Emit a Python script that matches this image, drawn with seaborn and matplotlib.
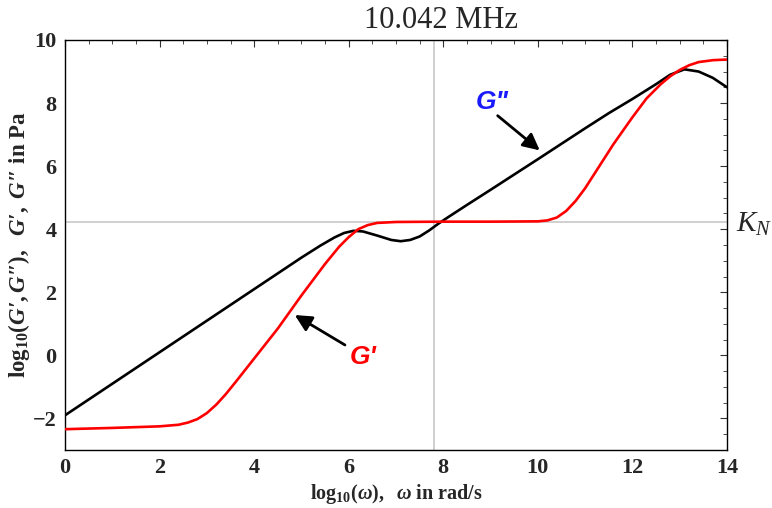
import matplotlib
matplotlib.use("Agg")
import matplotlib.pyplot as plt
from matplotlib.ticker import MultipleLocator
import seaborn as sns
import pandas as pd

# ---- data ----
title_text = "10.042 MHz"
kn_value = 4.24
vline_x = 7.8

gpp_x = [0, 1, 2, 3, 4, 5, 5.4, 5.7, 5.9, 6.1, 6.3, 6.6, 6.9, 7.1, 7.3, 7.5, 7.7, 7.9, 8.1, 8.5, 9, 10, 11, 11.5, 12, 12.5, 12.8, 13.1, 13.4, 13.7, 14]
gpp_y = [-1.9, -0.9, 0.1, 1.1, 2.1, 3.1, 3.48, 3.74, 3.88, 3.95, 3.93, 3.8, 3.66, 3.62, 3.66, 3.77, 3.96, 4.18, 4.38, 4.77, 5.25, 6.22, 7.2, 7.68, 8.13, 8.6, 8.9, 9.07, 9.0, 8.8, 8.5]

gp_x = [0, 1, 2, 2.4, 2.6, 2.8, 3.0, 3.2, 3.4, 3.6, 4.0, 4.5, 5.0, 5.5, 5.8, 6.0, 6.2, 6.4, 6.6, 7.0, 8, 9, 10, 10.2, 10.4, 10.6, 10.8, 11.0, 11.3, 11.6, 12.0, 12.3, 12.6, 12.8, 13.0, 13.2, 13.4, 13.7, 14]
gp_y = [-2.34, -2.3, -2.25, -2.2, -2.13, -2.02, -1.83, -1.56, -1.23, -0.86, -0.1, 0.85, 1.9, 2.9, 3.45, 3.75, 4.0, 4.13, 4.2, 4.23, 4.24, 4.24, 4.25, 4.28, 4.37, 4.58, 4.9, 5.3, 6.0, 6.7, 7.55, 8.15, 8.6, 8.85, 9.05, 9.2, 9.3, 9.36, 9.38]

x_ticks = [0, 2, 4, 6, 8, 10, 12, 14]
y_ticks = [-2, 0, 2, 4, 6, 8, 10]

sns.set_style("white")
plt.rcParams["font.family"] = ["Liberation Serif", "DejaVu Serif"]
plt.rcParams["mathtext.fontset"] = "custom"
plt.rcParams["mathtext.rm"] = "Liberation Serif:bold"
plt.rcParams["mathtext.it"] = "Liberation Serif:italic"
plt.rcParams["mathtext.bf"] = "Liberation Serif:bold"
plt.rcParams["mathtext.bfit"] = "Liberation Serif:italic:bold"

df = pd.concat([
    pd.DataFrame({"x": gpp_x, "y": gpp_y, "s": "G''"}),
    pd.DataFrame({"x": gp_x, "y": gp_y, "s": "G'"}),
])

fig = plt.figure(figsize=(7.72, 5.08), dpi=100)
ax = fig.add_axes([65 / 772, 1 - 450 / 508, (727 - 65) / 772, (450 - 40) / 508])

ax.axhline(kn_value, color="#c8c8c8", lw=1.2, zorder=1)
ax.axvline(vline_x, color="#c8c8c8", lw=1.2, zorder=1)

sns.lineplot(data=df, x="x", y="y", hue="s", palette={"G''": "black", "G'": "#ff0000"},
             estimator=None, sort=False, lw=1.9, legend=False, ax=ax, zorder=3)

ax.set_xlim(0, 14)
ax.set_ylim(-3, 10)
ax.set_xticks(x_ticks)
ax.set_yticks(y_ticks)
ax.set_xticklabels([str(t) for t in x_ticks], fontweight="bold", fontsize=16)
ax.set_yticklabels([str(t).replace("-", "\u2212") for t in y_ticks], fontweight="bold", fontsize=16)
ax.xaxis.set_minor_locator(MultipleLocator(0.5))
ax.yaxis.set_minor_locator(MultipleLocator(0.5))
ax.tick_params(which="both", direction="in", top=True, right=True, color="#333333")
ax.tick_params(which="major", length=5, width=0.8, pad=6)
ax.tick_params(which="minor", length=3, width=0.6)
for sp in ax.spines.values():
    sp.set_color("black")
    sp.set_linewidth(1.0)

ax.set_xlabel(r"$\mathbf{log}_{\mathbf{10}}(\mathbfit{\omega}),\ \ \mathbfit{\omega}$ in rad/s",
              fontweight="bold", fontsize=14.5, labelpad=3)
ax.set_ylabel("$\\mathbf{log}_{\\mathbf{10}}(\\mathbfit{G\u2032},\\mathbfit{G\u2033}),\\ \\ \\mathbfit{G\u2032},\\ \\mathbfit{G\u2033}$ in Pa",
              fontweight="bold", fontsize=16.5, labelpad=1)

fig.text(441 / 772, 1 - 20 / 508, title_text, ha="center", va="center", fontsize=22)
ax.text(14.2, kn_value - 0.1, r"$K_N$", ha="left", va="center", fontsize=21, clip_on=False)

arrow_style = dict(arrowstyle="-|>,head_length=0.5,head_width=0.25", color="black", lw=2,
                   mutation_scale=20, shrinkA=0, shrinkB=0)
txt_kw = dict(ha="center", va="center", fontsize=19, fontweight="bold", fontstyle="italic",
              family=["Liberation Sans", "DejaVu Sans"], zorder=5)

ax.annotate("", xy=(10.04, 6.5), xytext=(9.15, 7.6), arrowprops=arrow_style, zorder=5)
ax.text(9.03, 8.02, 'G"', color="#1a1aff", **txt_kw)
ax.annotate("", xy=(4.86, 1.28), xytext=(5.92, 0.33), arrowprops=arrow_style, zorder=5)
ax.text(6.3, -0.05, "G'", color="#ff0000", **txt_kw)

fig.savefig("out.png", dpi=100)
